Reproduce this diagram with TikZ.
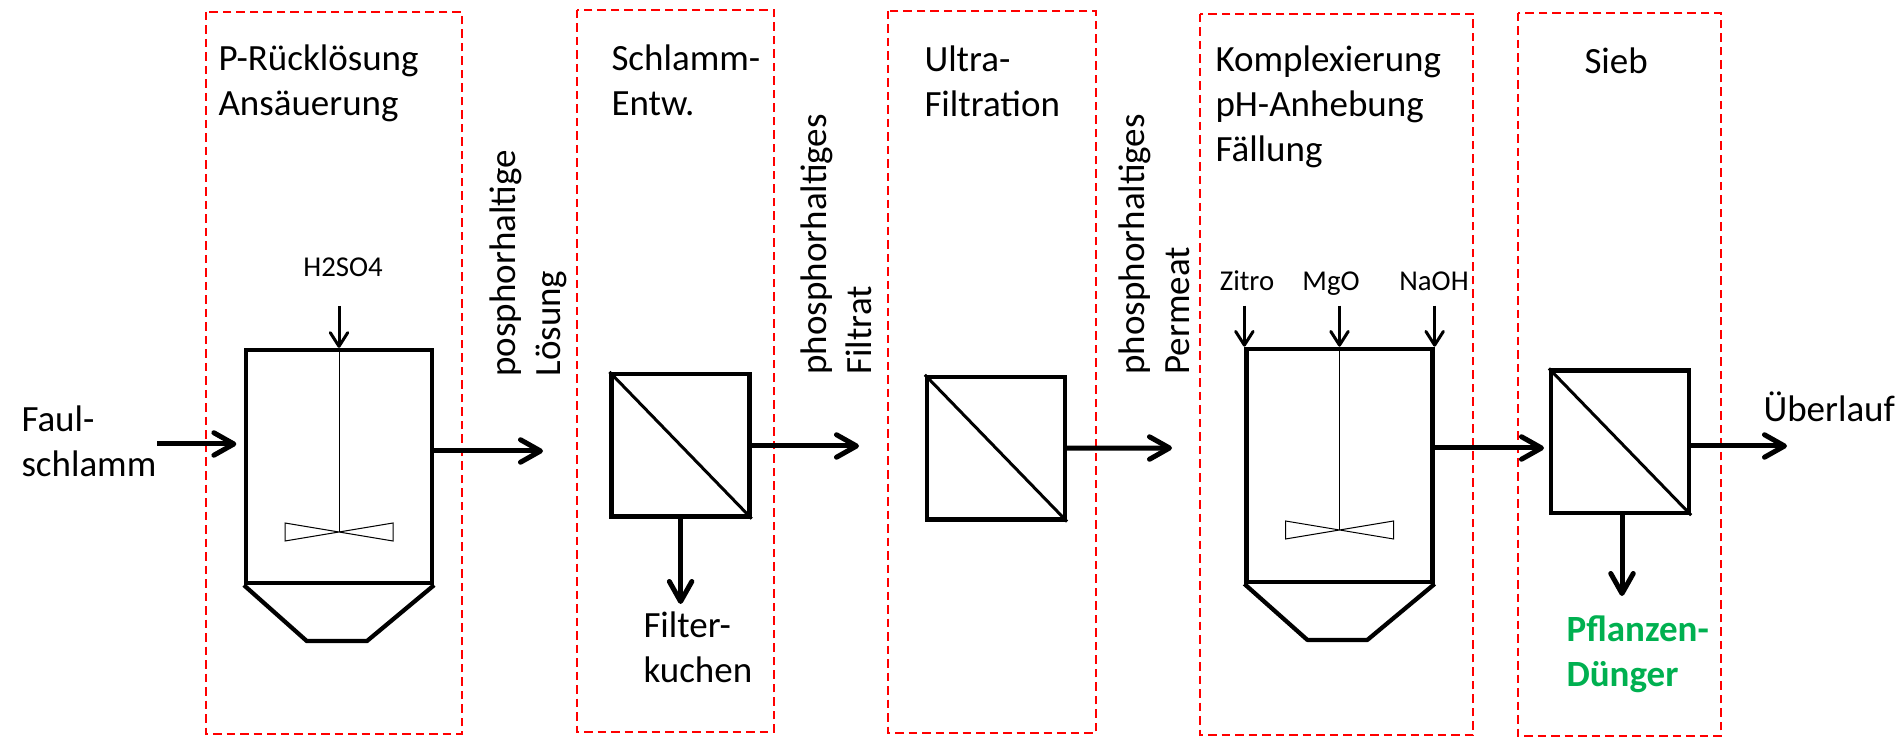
\documentclass[tikz,border=0pt]{standalone}
\usepackage{fontspec}
\setmainfont{Carlito}
\usetikzlibrary{arrows.meta}
\definecolor{duenger}{RGB}{0,176,80}

\begin{document}
\begin{tikzpicture}[x=0.4pt,y=0.4pt,yscale=-1,
  stage/.style={draw=red, line width=0.9pt, dash pattern=on 3.4pt off 2pt},
  tank/.style={draw, line width=1.7pt, minimum width=74.4pt, minimum height=93.2pt, inner sep=0pt},
  filter/.style={draw, line width=1.7pt, minimum width=55.2pt, minimum height=57pt, inner sep=0pt},
  flow/.style={line width=2pt, -{Straight Barb[length=8pt,width=9pt,round]}},
  dose/.style={line width=1.2pt, -{Straight Barb[length=5.5pt,width=7pt,round]}},
  lbl/.style={inner sep=0pt, align=left, font=\fontsize{14.8pt}{18pt}\selectfont},
  chem/.style={inner sep=0pt, font=\fontsize{11.5pt}{13pt}\selectfont}]

\useasboundingbox (0,0) rectangle (1901,737);

\draw [stage] (206,12) rectangle (462,734);
\draw [stage] (577,10) rectangle (774,732);
\draw [stage] (888,11) rectangle (1096,733);
\draw [stage] (1200,14) rectangle (1473,735);
\draw [stage] (1518,13) rectangle (1721,736);

\node [tank] (tankA) at (339,466.5) {};
\draw [line width=1.7pt, line join=round] (tankA.south west) -- ++(63,56) -- ++(60,0) -- (tankA.south east);
\coordinate (impA) at (339,532);
\draw [line width=0.4pt] (tankA.north) -- (impA);
\draw [line width=0.4pt] (impA) ++(-54,-9) -- ++(108,18) -- ++(0,-18) -- ++(-108,18) -- cycle;

\node [filter] (filterA) at (680.6,445.3) {};
\draw [line width=1.2pt] (filterA.north west) -- (filterA.south east);
\node [filter] (filterB) at (996,448.2) {};
\draw [line width=1.2pt] (filterB.north west) -- (filterB.south east);

\node [tank] (tankB) at (1339.5,465.3) {};
\draw [line width=1.7pt, line join=round] (tankB.south west) -- ++(63,56) -- ++(60,0) -- (tankB.south east);
\coordinate (impB) at (1339.5,530);
\draw [line width=0.4pt] (tankB.north) -- (impB);
\draw [line width=0.4pt] (impB) ++(-54,-9) -- ++(108,18) -- ++(0,-18) -- ++(-108,18) -- cycle;

\node [filter] (sieve) at (1620,441.8) {};
\draw [line width=1.2pt] (sieve.north west) -- (sieve.south east);

\coordinate (feed) at (157,444);
\coordinate (loesung) at (543,451);
\coordinate (filtrat) at (859,446);
\coordinate (kuchen) at (681,604);
\coordinate (permeat) at (1172,448);
\coordinate (sieveIn) at (1544,448);
\coordinate (ueberlauf) at (1787,446);
\coordinate (duenger) at (1622,596);

\draw [flow, shorten >=3pt] (feed) -- (feed -| tankA.west);
\draw [flow] (loesung -| tankA.east) -- (loesung);
\draw [flow] (filterA.east |- filtrat) -- (filtrat);
\draw [flow] (filterA.south) -- (filterA.south |- kuchen);
\draw [flow] (filterB.east) -- (permeat);
\draw [flow] (tankB.east |- sieveIn) -- (sieveIn);
\draw [flow] (sieve.east |- ueberlauf) -- (ueberlauf);
\draw [flow] (sieve.south -| duenger) -- (duenger);

\draw [dose] (tankA.north) ++(0,-42) -- (tankA.north);
\foreach \a in {north west,north,north east}
  \draw [dose] (tankB.\a) ++(0,-41) -- (tankB.\a);

\node [chem, anchor=base] (h2so4) at (343,277) {H2SO4};
\node [chem, anchor=base] (zitro) at (1247,291) {Zitro};
\node [chem, anchor=base] (mgo) at (1331,291) {MgO};
\node [chem, anchor=base] (naoh) at (1434,291) {NaOH};

\node [lbl, anchor=base west] (stageA) at (218,116) {P-Rücklösung\\Ansäuerung};
\node [lbl, anchor=base west] (stageB) at (611,116) {Schlamm-\\Entw.};
\node [lbl, anchor=base west] (stageC) at (924,117) {Ultra-\\Filtration};
\node [lbl, anchor=base west] (stageD) at (1215,162) {Komplexierung\\pH-Anhebung\\Fällung};
\node [lbl, anchor=base west] (stageE) at (1584,74) {Sieb};

\node [lbl, anchor=base west] (faul) at (21,477) {Faul-\\schlamm};
\node [lbl, anchor=base west] (kuchenTxt) at (643,683) {Filter-\\kuchen};
\node [lbl, anchor=base west] (ueberlaufTxt) at (1763,422) {Überlauf};
\node [lbl, anchor=base west, text=duenger, font=\fontsize{14.8pt}{18pt}\selectfont\bfseries] (duengerTxt) at (1566,687) {Pflanzen-\\Dünger};

\node [lbl, rotate=90, anchor=north west] (loesungTxt) at (489,377) {posphorhaltige\\Lösung};
\node [lbl, rotate=90, anchor=north west] (filtratTxt) at (800,375) {phosphorhaltiges\\Filtrat};
\node [lbl, rotate=90, anchor=north west] (permeatTxt) at (1118,375) {phosphorhaltiges\\Permeat};

\end{tikzpicture}
\end{document}
